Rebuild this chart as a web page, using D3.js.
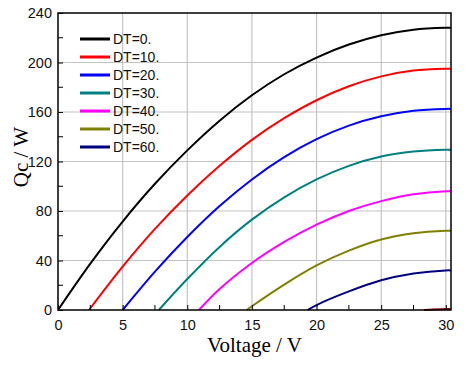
<!DOCTYPE html>
<html>
<head>
<meta charset="utf-8">
<script src="https://cdn.jsdelivr.net/npm/d3@7"></script>
<style>
  body { margin: 0; background: #fff; }
  svg { display: block; }
</style>
</head>
<body>
<div id="chart"></div>
<script>
// values, [voltage, Qc]
const dtLabels = ['DT=0.', 'DT=10.', 'DT=20.', 'DT=30.', 'DT=40.', 'DT=50.', 'DT=60.'];
const dtColors = ['#000000', '#ff0000', '#0000ff', '#008080', '#ff00ff', '#808000', '#000080'];

const dt0  = [[0,0],[2.5,37.5],[5,71.5],[7.5,102],[10,129],[12.5,153],[15,173.5],[17.5,190.5],[20,204],[22.5,214.5],[25,222],[27.5,226.5],[30,228],[30.4,228]];
const dt10 = [[2.4,0],[5,35],[7.5,65.5],[10,92.5],[12.5,116.5],[15,137.5],[17.5,155],[20,169.5],[22.5,180.8],[25,188.8],[27.5,193.5],[30,195],[30.4,195]];
const dt20 = [[5,0],[7.5,31],[10,59],[12.5,84],[15,105.5],[17.5,123.5],[20,138],[22.5,149],[25,156.5],[27.5,161],[30,162.5],[30.4,162.5]];
const dt30 = [[7.8,0],[10,25],[12.5,51],[15,73],[17.5,91],[20,105.5],[22.5,116.5],[25,124],[27.5,128],[30,129.5],[30.4,129.5]];
const dt40 = [[10.9,0],[12.5,17],[15,38],[17.5,55],[20,69],[22.5,80],[25,88],[27.5,93.5],[30,96],[30.4,96]];
const dt50 = [[14.6,0],[15,3],[17.5,20.5],[20,36],[22.5,48],[25,57],[27.5,62],[30,64],[30.4,64]];
const dt60 = [[19.3,0],[20,4],[22.5,15],[25,24],[27.5,29.5],[30,32],[30.4,32]];
const dt70 = [[28.3,0],[29,0.4],[30,0.8],[30.4,0.8]];

const series = [dt0, dt10, dt20, dt30, dt40, dt50, dt60];

const xTicks = [0, 5, 10, 15, 20, 25, 30];
const yTicks = [0, 40, 80, 120, 160, 200, 240];
const xMinor = [2.5, 7.5, 12.5, 17.5, 22.5, 27.5];
const yMinor = [20, 60, 100, 140, 180, 220];

const W = 468, H = 368;
const margin = {top: 13, right: 17, bottom: 58, left: 58};
const width = W - margin.left - margin.right;
const height = H - margin.top - margin.bottom;

const x = d3.scaleLinear().domain([0, 30.4]).range([0, width]);
const y = d3.scaleLinear().domain([0, 240]).range([height, 0]);

const svg = d3.select('#chart').append('svg')
  .attr('width', W).attr('height', H);

const g = svg.append('g')
  .attr('transform', `translate(${margin.left},${margin.top})`);

/// GRID
g.append('g')
  .selectAll('line')
  .data(xTicks.filter(d => d > 0))
  .join('line')
  .attr('x1', d => x(d)).attr('x2', d => x(d))
  .attr('y1', 0).attr('y2', height)
  .attr('stroke', '#c4c4c4').attr('stroke-width', 1.2);

g.append('g')
  .selectAll('line')
  .data(yTicks.filter(d => d > 0 && d < 240))
  .join('line')
  .attr('x1', 0).attr('x2', width)
  .attr('y1', d => y(d)).attr('y2', d => y(d))
  .attr('stroke', '#c4c4c4').attr('stroke-width', 1.2);

/// CURVES
svg.append('defs').append('clipPath').attr('id', 'clip')
  .append('rect').attr('width', width).attr('height', height + 1);

const line = d3.line()
  .x(d => x(d[0]))
  .y(d => y(d[1]))
  .curve(d3.curveCatmullRom.alpha(0.5));

const curves = g.append('g').attr('clip-path', 'url(#clip)');

curves.append('path')
  .attr('d', line(dt70))
  .attr('fill', 'none')
  .attr('stroke', '#8b0000')
  .attr('stroke-width', 2);

curves.selectAll('path.curve')
  .data(series)
  .join('path')
  .attr('class', 'curve')
  .attr('d', d => line(d))
  .attr('fill', 'none')
  .attr('stroke', (d, i) => dtColors[i])
  .attr('stroke-width', 2);

/// AXES
const xAxis = g.append('g')
  .attr('transform', `translate(0,${height})`)
  .call(d3.axisBottom(x).tickValues(xTicks).tickSize(-5).tickPadding(10).tickSizeOuter(0));

const yAxis = g.append('g')
  .call(d3.axisLeft(y).tickValues(yTicks).tickSize(-5).tickPadding(6).tickSizeOuter(0));

[xAxis, yAxis].forEach(a => {
  a.select('.domain').remove();
  a.selectAll('line').attr('stroke', '#000');
  a.selectAll('text')
    .attr('fill', '#111')
    .style('font-family', 'Arial, "Liberation Sans", sans-serif')
    .style('font-size', '14.5px');
});

g.append('g')
  .selectAll('line')
  .data(xMinor)
  .join('line')
  .attr('x1', d => x(d)).attr('x2', d => x(d))
  .attr('y1', height).attr('y2', height - 5)
  .attr('stroke', '#000');

g.append('g')
  .selectAll('line')
  .data(yMinor)
  .join('line')
  .attr('x1', 0).attr('x2', 5)
  .attr('y1', d => y(d)).attr('y2', d => y(d))
  .attr('stroke', '#000');

// frame
g.append('rect')
  .attr('width', width).attr('height', height)
  .attr('fill', 'none')
  .attr('stroke', '#000')
  .attr('stroke-width', 1.5);

/// TITLES
svg.append('text')
  .attr('x', margin.left + width / 2)
  .attr('y', 352)
  .attr('text-anchor', 'middle')
  .style('font-family', '"Times New Roman", "Liberation Serif", serif')
  .style('font-size', '21px')
  .text('Voltage / V');

svg.append('text')
  .attr('transform', 'translate(28,157) rotate(-90)')
  .attr('text-anchor', 'middle')
  .style('font-family', '"Times New Roman", "Liberation Serif", serif')
  .style('font-size', '21px')
  .text('Qc / W');

/// LEGEND
const legend = svg.append('g')
  .attr('transform', 'translate(80,39)')
  .style('font-family', 'Arial, "Liberation Sans", sans-serif')
  .style('font-size', '14px');

const item = legend.selectAll('g')
  .data(dtLabels)
  .join('g')
  .attr('transform', (d, i) => `translate(0,${i * 18})`);

item.append('line')
  .attr('x1', 0).attr('x2', 30)
  .attr('stroke', (d, i) => dtColors[i])
  .attr('stroke-width', 3);

item.append('text')
  .attr('x', 33)
  .attr('dy', '0.36em')
  .attr('fill', '#111')
  .text(d => d);
</script>
</body>
</html>
